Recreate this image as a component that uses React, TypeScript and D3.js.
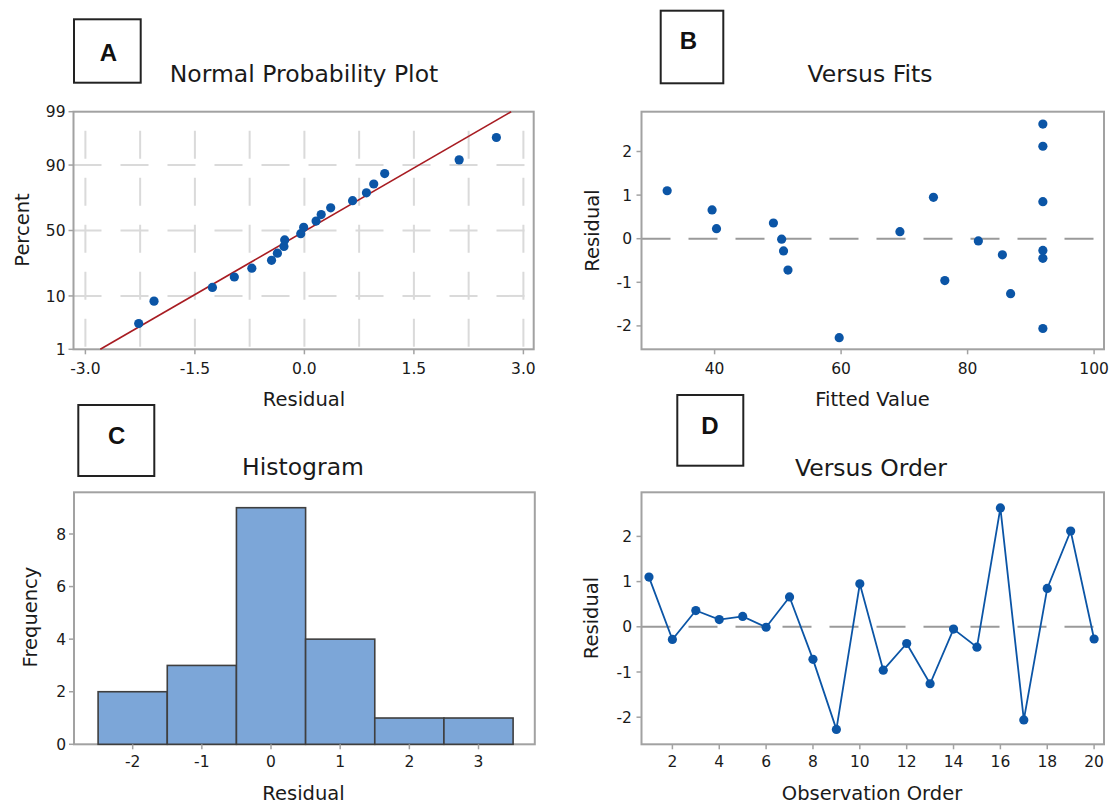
import React from 'react';
import * as d3 from 'd3';

// ---------- data ----------
const observationOrder = [1, 2, 3, 4, 5, 6, 7, 8, 9, 10, 11, 12, 13, 14, 15, 16, 17, 18, 19, 20];
const residuals = [1.1, -0.28, 0.36, 0.16, 0.23, -0.01, 0.66, -0.72, -2.27, 0.95, -0.96, -0.37, -1.26, -0.05, -0.45, 2.63, -2.06, 0.85, 2.12, -0.27];
const fittedValues = [32.5, 50.9, 49.3, 69.3, 40.3, 50.6, 39.6, 51.6, 59.7, 74.6, 76.4, 85.5, 86.8, 81.7, 91.9, 91.9, 91.9, 91.9, 91.9, 91.9];
const histCenters = [-2, -1, 0, 1, 2, 3];
const histCounts = [2, 3, 9, 4, 1, 1];

const probTicks = [1, 10, 50, 90, 99];
const probGrid = [10, 50, 90];
const residTicksA = [-3, -1.5, 0, 1.5, 3];
const residGridA = [-3, -2.25, -1.5, -0.75, 0, 0.75, 1.5, 2.25, 3];
const fitsTicks = [40, 60, 80, 100];
const residTicksBD = [-2, -1, 0, 1, 2];
const freqTicks = [0, 2, 4, 6, 8];
const orderTicks = [2, 4, 6, 8, 10, 12, 14, 16, 18, 20];

// ---------- helpers ----------
function invNorm(p: number): number {
  const a = [-3.969683028665376e1, 2.209460984245205e2, -2.759285104469687e2, 1.38357751867269e2, -3.066479806614716e1, 2.506628277459239];
  const b = [-5.447609879822406e1, 1.615858368580409e2, -1.556989798598866e2, 6.680131188771972e1, -1.328068155288572e1];
  const c = [-7.784894002430293e-3, -3.223964580411365e-1, -2.400758277161838, -2.549732539343734, 4.374664141464968, 2.938163982698783];
  const d = [7.784695709041462e-3, 3.224671290700398e-1, 2.445134137142996, 3.754408661907416];
  const pl = 0.02425;
  if (p < pl) {
    const q = Math.sqrt(-2 * Math.log(p));
    return (((((c[0] * q + c[1]) * q + c[2]) * q + c[3]) * q + c[4]) * q + c[5]) / ((((d[0] * q + d[1]) * q + d[2]) * q + d[3]) * q + 1);
  }
  if (p > 1 - pl) {
    const q = Math.sqrt(-2 * Math.log(1 - p));
    return -(((((c[0] * q + c[1]) * q + c[2]) * q + c[3]) * q + c[4]) * q + c[5]) / ((((d[0] * q + d[1]) * q + d[2]) * q + d[3]) * q + 1);
  }
  const q = p - 0.5;
  const r = q * q;
  return ((((((a[0] * r + a[1]) * r + a[2]) * r + a[3]) * r + a[4]) * r + a[5]) * q) / (((((b[0] * r + b[1]) * r + b[2]) * r + b[3]) * r + b[4]) * r + 1);
}

const FONT = "'DejaVu Sans', sans-serif";
const BOLD_FONT = "'Liberation Sans', Arial, sans-serif";
const BLUE = '#0b55a6';
const RED = '#a81c22';
const FRAME = '#a2a2a2';
const GRID = '#dadada';
const REF = '#9a9a9a';
const TXT = '#1a1a1a';
const TICK_FS = 15.5;
const LABEL_FS = 19.5;
const TITLE_FS = 23.5;

type Box = { l: number; t: number; r: number; b: number };

const Frame = ({ f }: { f: Box }) => (
  <rect x={f.l} y={f.t} width={f.r - f.l} height={f.b - f.t} fill="none" stroke={FRAME} strokeWidth={2} />
);

const LetterBox = ({ x, y, w, h, letter, cx, cy }: any) => (
  <g>
    <rect x={x} y={y} width={w} height={h} fill="#fff" stroke="#222" strokeWidth={2} />
    <text x={cx} y={cy + 8.5} textAnchor="middle" fontFamily={BOLD_FONT} fontWeight="bold" fontSize={24} fill="#111">
      {letter}
    </text>
  </g>
);

const XTicks = ({ ticks, scale, f, fmt, labelY }: any) => (
  <g>
    {ticks.map((t: number) => (
      <g key={t}>
        <line x1={scale(t)} x2={scale(t)} y1={f.b} y2={f.b + 5} stroke={FRAME} strokeWidth={1.5} />
        <text x={scale(t)} y={labelY} textAnchor="middle" fontFamily={FONT} fontSize={TICK_FS} fill={TXT}>
          {fmt(t)}
        </text>
      </g>
    ))}
  </g>
);

const YTicks = ({ ticks, pos, f, fmt, labelX }: any) => (
  <g>
    {ticks.map((t: number) => (
      <g key={t}>
        <line x1={f.l - 5} x2={f.l} y1={pos(t)} y2={pos(t)} stroke={FRAME} strokeWidth={1.5} />
        <text x={labelX} y={pos(t)} dy="0.36em" textAnchor="end" fontFamily={FONT} fontSize={TICK_FS} fill={TXT}>
          {fmt(t)}
        </text>
      </g>
    ))}
  </g>
);

const YLabel = ({ x, y, text }: any) => (
  <text transform={`translate(${x},${y}) rotate(-90)`} textAnchor="middle" fontFamily={FONT} fontSize={LABEL_FS} fill={TXT}>
    {text}
  </text>
);

const Label = ({ x, y, text, size }: any) => (
  <text x={x} y={y} textAnchor="middle" fontFamily={FONT} fontSize={size} fill={TXT}>
    {text}
  </text>
);

export default function App() {
  const N = residuals.length;

  // ---------- Panel A: normal probability plot ----------
  const fA: Box = { l: 73.5, t: 111.7, r: 533.7, b: 349.3 };
  const aX = d3.scaleLinear().domain([-3, 3]).range([85.4, 523.4]);
  const aY = d3.scaleLinear().domain([invNorm(0.01), invNorm(0.99)]).range([fA.b, fA.t]);
  const pctY = (p: number) => aY(invNorm(p / 100));
  const sorted = [...residuals].sort(d3.ascending);
  const probPts = sorted.map((r, i) => ({ r, p: ((i + 1 - 0.3) / (N + 0.4)) * 100 }));
  const mu = d3.mean(residuals) as number;
  const sd = d3.deviation(residuals) as number;
  const fitLine = d3
    .line<number>()
    .x((z) => aX(mu + sd * z))
    .y((z) => aY(z))([invNorm(0.01), invNorm(0.99)]) as string;

  // ---------- Panel B: versus fits ----------
  const fB: Box = { l: 641.5, t: 111.7, r: 1104, b: 349.3 };
  const bX = d3.scaleLinear().domain([40, 100]).range([714.6, 1094.1]);
  const bY = d3.scaleLinear().domain([-2, 2]).range([325.9, 151.5]);

  // ---------- Panel C: histogram ----------
  const fC: Box = { l: 74, t: 492.3, r: 534.8, b: 744.3 };
  const cX = d3.scaleLinear().domain([-2.5, 3.5]).range([98.1, 513.1]);
  const cY = d3.scaleLinear().domain([0, 8]).range([744.3, 534]);

  // ---------- Panel D: versus order ----------
  const fD: Box = { l: 641.5, t: 492.3, r: 1104, b: 744.3 };
  const dX = d3.scaleLinear().domain([2, 20]).range([672.4, 1094.1]);
  const dY = d3.scaleLinear().domain([-2, 2]).range([717.2, 536.4]);
  const orderLine = d3
    .line<number>()
    .x((_, i) => dX(observationOrder[i]))
    .y((r) => dY(r))(residuals) as string;

  const fmt1 = (v: number) => d3.format('.1f')(v).replace('\u2212', '-');
  const fmt0 = (v: number) => String(v);

  return (
    <svg
      width={1111}
      height={806}
      viewBox="0 0 1111 806"
      style={{ position: 'absolute', left: 0, top: 0, display: 'block', background: '#fff' }}
    >
      <rect x={0} y={0} width={1111} height={806} fill="#fff" />

      {/* ===== Panel A ===== */}
      <g>
        {residGridA.map((g) => (
          <line key={'vg' + g} x1={aX(g)} x2={aX(g)} y1={fA.t} y2={fA.b} stroke={GRID} strokeWidth={2}
            strokeDasharray="28 19" strokeDashoffset={28} />
        ))}
        {probGrid.map((p) => (
          <line key={'hg' + p} x1={fA.l} x2={fA.r} y1={pctY(p)} y2={pctY(p)} stroke={GRID} strokeWidth={2}
            strokeDasharray="28 19" />
        ))}
        <Frame f={fA} />
        <XTicks ticks={residTicksA} scale={aX} f={fA} fmt={fmt1} labelY={374} />
        <YTicks ticks={probTicks} pos={pctY} f={fA} fmt={fmt0} labelX={65.5} />
        <path d={fitLine} fill="none" stroke={RED} strokeWidth={1.6} />
        {probPts.map((d, i) => (
          <circle key={i} cx={aX(d.r)} cy={pctY(d.p)} r={4.6} fill={BLUE} />
        ))}
        <Label x={304} y={82} text="Normal Probability Plot" size={TITLE_FS} />
        <Label x={304} y={406} text="Residual" size={LABEL_FS} />
        <YLabel x={29} y={230} text="Percent" />
        <LetterBox x={74} y={19.3} w={66.7} h={63.4} letter="A" cx={108.3} cy={52.3} />
      </g>

      {/* ===== Panel B ===== */}
      <g>
        <line x1={fB.l} x2={fB.r} y1={bY(0)} y2={bY(0)} stroke={REF} strokeWidth={2} strokeDasharray="29 18" />
        <Frame f={fB} />
        <XTicks ticks={fitsTicks} scale={bX} f={fB} fmt={fmt0} labelY={374} />
        <YTicks ticks={residTicksBD} pos={bY} f={fB} fmt={fmt0} labelX={632} />
        {fittedValues.map((fv, i) => (
          <circle key={i} cx={bX(fv)} cy={bY(residuals[i])} r={4.6} fill={BLUE} />
        ))}
        <Label x={870} y={82} text="Versus Fits" size={TITLE_FS} />
        <Label x={872.5} y={406} text="Fitted Value" size={LABEL_FS} />
        <YLabel x={598.5} y={230.5} text="Residual" />
        <LetterBox x={660.7} y={10.7} w={62.6} h={72.6} letter="B" cx={688.3} cy={40} />
      </g>

      {/* ===== Panel C ===== */}
      <g>
        <Frame f={fC} />
        {histCenters.map((c, i) => (
          <rect key={c} x={cX(c - 0.5)} y={cY(histCounts[i])} width={cX(c + 0.5) - cX(c - 0.5)}
            height={cY(0) - cY(histCounts[i])} fill="#7ca6d8" stroke="#3f3f3f" strokeWidth={1.6} />
        ))}
        <XTicks ticks={histCenters} scale={cX} f={fC} fmt={fmt0} labelY={767} />
        <YTicks ticks={freqTicks} pos={cY} f={fC} fmt={fmt0} labelX={66} />
        <Label x={303} y={475} text="Histogram" size={TITLE_FS} />
        <Label x={303.5} y={800} text="Residual" size={LABEL_FS} />
        <YLabel x={36.5} y={617} text="Frequency" />
        <LetterBox x={78.3} y={405} w={76} h={71} letter="C" cx={116.7} cy={435} />
      </g>

      {/* ===== Panel D ===== */}
      <g>
        <line x1={fD.l} x2={fD.r} y1={dY(0)} y2={dY(0)} stroke={REF} strokeWidth={2} strokeDasharray="29 18" />
        <Frame f={fD} />
        <XTicks ticks={orderTicks} scale={dX} f={fD} fmt={fmt0} labelY={767} />
        <YTicks ticks={residTicksBD} pos={dY} f={fD} fmt={fmt0} labelX={632} />
        <path d={orderLine} fill="none" stroke={BLUE} strokeWidth={1.8} />
        {residuals.map((r, i) => (
          <circle key={i} cx={dX(observationOrder[i])} cy={dY(r)} r={4.6} fill={BLUE} />
        ))}
        <Label x={871} y={476} text="Versus Order" size={TITLE_FS} />
        <Label x={872} y={800} text="Observation Order" size={LABEL_FS} />
        <YLabel x={598} y={618} text="Residual" />
        <LetterBox x={677.3} y={395} w={66} h={70.7} letter="D" cx={710} cy={425} />
      </g>
    </svg>
  );
}
